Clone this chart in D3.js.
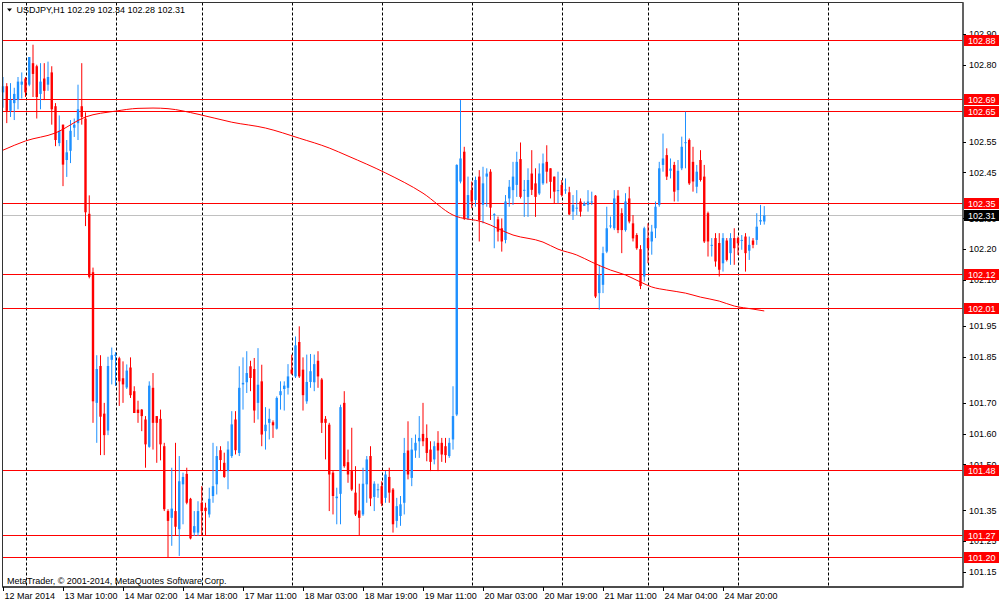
<!DOCTYPE html>
<html><head><meta charset="utf-8">
<script src="https://cdn.jsdelivr.net/npm/d3@7"></script>
<style>
html,body{margin:0;padding:0;background:#fff;}
svg text{font-family:"Liberation Sans",Arial,sans-serif;font-size:9px;}
</style></head>
<body>
<svg id="c" width="1000" height="604"></svg>
<script>
const symbolTitle = "USDJPY,H1  102.29 102.34 102.28 102.31";
const footerText = "MetaTrader, © 2001-2014, MetaQuotes Software Corp.";

const openP = [102.71,102.73,102.65,102.675,102.685,102.735,102.755,102.735,102.805,102.795,102.705,102.755,102.735,102.775,102.665,102.545,102.605,102.49,102.52,102.595,102.61,102.665,102.625,102.315,102.125,101.70,101.82,101.665,101.61,101.84,101.853,101.845,101.78,101.75,101.815,101.738,101.678,101.678,101.646,101.557,101.749,101.657,101.648,101.559,101.348,101.326,101.348,101.289,101.435,101.469,101.388,101.278,101.278,101.375,101.359,101.337,101.397,101.435,101.546,101.505,101.478,101.527,101.646,101.537,101.76,101.767,101.819,101.81,101.70,101.77,101.608,101.635,101.637,101.616,101.725,101.745,101.749,101.808,101.786,101.898,101.808,101.705,101.768,101.767,101.837,101.776,101.648,101.629,101.473,101.39,101.404,101.70,101.507,101.478,101.408,101.35,101.337,101.435,101.527,101.394,101.417,101.429,101.391,101.459,101.418,101.316,101.332,101.375,101.545,101.456,101.545,101.575,101.599,101.586,101.548,101.516,101.57,101.57,101.559,101.527,101.581,101.662,102.42,102.517,102.30,102.392,102.36,102.436,102.344,102.436,102.452,102.312,102.297,102.268,102.23,102.365,102.392,102.409,102.493,102.391,102.37,102.446,102.414,102.381,102.414,102.484,102.463,102.436,102.389,102.409,102.391,102.385,102.322,102.333,102.355,102.341,102.344,102.353,102.374,102.057,102.084,102.192,102.275,102.268,102.374,102.317,102.262,102.365,102.284,102.246,102.20,102.111,102.236,102.225,102.268,102.344,102.474,102.506,102.455,102.474,102.392,102.463,102.545,102.555,102.484,102.403,102.49,102.436,102.317,102.212,102.236,102.22,102.154,102.228,102.187,102.236,102.236,102.227,102.241,102.195,102.228,102.23,102.29,102.29];
const highP = [102.76,102.74,102.74,102.725,102.76,102.775,102.76,102.825,102.865,102.80,102.805,102.805,102.81,102.795,102.675,102.635,102.605,102.555,102.62,102.625,102.735,102.805,102.645,102.375,102.14,101.855,101.855,101.70,101.85,101.88,101.865,101.85,101.835,101.825,101.848,101.754,101.707,101.68,101.657,101.77,101.797,101.657,101.678,101.57,101.354,101.489,101.57,101.527,101.473,101.489,101.391,101.348,101.38,101.429,101.375,101.424,101.57,101.559,101.559,101.538,101.575,101.673,101.673,101.819,101.848,101.868,101.837,101.846,101.878,101.824,101.686,101.681,101.643,101.721,101.77,101.77,101.826,101.857,101.916,101.949,101.848,101.857,101.859,101.857,101.868,101.781,101.657,101.635,101.478,101.424,101.694,101.738,101.548,101.619,101.494,101.437,101.489,101.527,101.559,101.445,101.437,101.445,101.478,101.489,101.423,101.391,101.397,101.586,101.64,101.586,101.597,101.657,101.70,101.63,101.575,101.575,101.608,101.586,101.586,101.586,101.754,102.476,102.685,102.533,102.436,102.42,102.436,102.457,102.468,102.463,102.46,102.317,102.306,102.30,102.376,102.425,102.484,102.517,102.547,102.425,102.463,102.522,102.463,102.479,102.511,102.538,102.463,102.436,102.452,102.425,102.43,102.403,102.376,102.392,102.365,102.355,102.392,102.387,102.376,102.149,102.208,102.338,102.306,102.392,102.392,102.333,102.382,102.403,102.311,102.252,102.213,102.273,102.284,102.279,102.355,102.484,102.576,102.528,102.495,102.484,102.49,102.566,102.647,102.56,102.533,102.474,102.522,102.474,102.322,102.236,102.252,102.252,102.252,102.236,102.252,102.268,102.241,102.246,102.252,102.241,102.236,102.317,102.344,102.34];
const lowP = [102.66,102.61,102.63,102.62,102.655,102.69,102.695,102.73,102.695,102.625,102.655,102.685,102.715,102.605,102.535,102.535,102.405,102.435,102.48,102.565,102.555,102.605,102.275,102.105,101.635,101.57,101.53,101.53,101.595,101.76,101.755,101.69,101.70,101.745,101.716,101.667,101.635,101.608,101.489,101.554,101.548,101.505,101.513,101.348,101.197,101.235,101.267,101.202,101.305,101.37,101.256,101.267,101.267,101.267,101.267,101.327,101.375,101.402,101.478,101.456,101.419,101.521,101.532,101.527,101.678,101.732,101.738,101.635,101.646,101.559,101.548,101.581,101.586,101.613,101.678,101.675,101.727,101.792,101.781,101.781,101.675,101.697,101.749,101.738,101.749,101.602,101.516,101.348,101.337,101.305,101.305,101.489,101.44,101.413,101.332,101.267,101.332,101.375,101.364,101.348,101.391,101.364,101.375,101.375,101.278,101.294,101.30,101.337,101.451,101.429,101.521,101.521,101.559,101.51,101.478,101.50,101.478,101.508,101.505,101.521,101.548,101.657,102.414,102.295,102.295,102.333,102.338,102.225,102.284,102.338,102.295,102.203,102.225,102.192,102.219,102.338,102.344,102.37,102.365,102.305,102.305,102.376,102.305,102.376,102.409,102.414,102.365,102.349,102.349,102.371,102.38,102.311,102.295,102.311,102.306,102.341,102.322,102.344,102.041,102.003,102.057,102.187,102.268,102.262,102.252,102.187,102.257,102.284,102.225,102.198,102.07,102.095,102.154,102.182,102.236,102.338,102.452,102.425,102.43,102.355,102.355,102.457,102.463,102.409,102.387,102.382,102.42,102.22,102.176,102.176,102.143,102.111,102.127,102.16,102.149,102.149,102.181,102.198,102.127,102.165,102.203,102.214,102.279,102.28];
const closeP = [102.73,102.65,102.685,102.705,102.745,102.745,102.71,102.825,102.77,102.695,102.745,102.715,102.76,102.655,102.555,102.585,102.475,102.515,102.585,102.605,102.655,102.63,102.32,102.11,101.705,101.81,101.655,101.595,101.82,101.855,101.857,101.77,101.76,101.805,101.725,101.667,101.667,101.657,101.565,101.756,101.635,101.635,101.565,101.354,101.316,101.356,101.297,101.445,101.459,101.375,101.259,101.299,101.348,101.348,101.348,101.388,101.429,101.527,101.514,101.459,101.548,101.63,101.546,101.749,101.765,101.797,101.781,101.675,101.759,101.597,101.629,101.648,101.627,101.716,101.738,101.756,101.786,101.795,101.887,101.786,101.725,101.768,101.803,101.826,101.786,101.635,101.635,101.467,101.397,101.395,101.686,101.494,101.467,101.418,101.337,101.326,101.437,101.516,101.389,101.437,101.419,101.372,101.467,101.408,101.305,101.364,101.37,101.537,101.467,101.548,101.57,101.586,101.575,101.537,101.508,101.559,101.545,101.532,101.53,101.57,101.657,102.474,102.495,102.30,102.376,102.355,102.425,102.295,102.414,102.446,102.335,102.314,102.257,102.225,102.355,102.403,102.436,102.484,102.37,102.393,102.425,102.393,102.37,102.446,102.479,102.452,102.419,102.387,102.392,102.376,102.394,102.313,102.344,102.335,102.322,102.349,102.355,102.355,102.046,102.116,102.187,102.268,102.277,102.365,102.262,102.262,102.355,102.29,102.235,102.203,102.08,102.268,102.203,102.257,102.338,102.463,102.495,102.436,102.462,102.387,102.455,102.533,102.548,102.414,102.42,102.452,102.425,102.225,102.225,102.214,102.16,102.133,102.236,102.165,102.236,102.203,102.219,102.23,102.187,102.214,102.214,102.273,102.295,102.31];

const maIdx = [0,6,14,22,30,36,40,44,52,61,70,79,87,92,102,112,120,128,136,144,148,153,157,162,166,170,173,177,182,186,191,195,200,203];
const maVal = [102.522,102.552,102.578,102.630,102.649,102.658,102.659,102.657,102.639,102.613,102.594,102.561,102.529,102.503,102.448,102.382,102.311,102.288,102.246,102.223,102.200,102.181,102.158,102.132,102.116,102.093,102.077,102.067,102.057,102.044,102.031,102.015,102.005,101.999];

const levelVals = [102.88,102.69,102.65,102.35,102.12,102.01,101.48,101.27,101.20];
const lastPrice = 102.31;
const yTicks = [102.90,102.80,102.55,102.45,102.30,102.20,102.10,101.95,101.85,101.70,101.60,101.50,101.35,101.25,101.15];
const xTickIdx = [0,16,32,48,64,80,96,112,128,144,160,176,192];
const xTickLabels = ["12 Mar 2014","13 Mar 10:00","14 Mar 02:00","14 Mar 18:00","17 Mar 11:00","18 Mar 03:00","18 Mar 19:00","19 Mar 11:00","20 Mar 03:00","20 Mar 19:00","21 Mar 11:00","24 Mar 04:00","24 Mar 20:00"];
const dayStartIdx = [6,30,53,77,101,125,149,172,196,220];

const bars = openP.map((o,i)=>({i, o, h:highP[i], l:lowP[i], c:closeP[i]}));

const L = 2.5, R = 963, T = 2.5, B = 587;
const svg = d3.select("#c");
const x = d3.scaleLinear().domain([0,256]).range([3,963]);
const y = d3.scaleLinear().domain([101.101,103.004]).range([587,2]);

const BLUE = "#1E90FF", RED = "#FF0000";

// day separators
svg.append("g").selectAll("line").data(dayStartIdx).join("line")
  .attr("x1",d=>Math.round(x(d))+0.5).attr("x2",d=>Math.round(x(d))+0.5)
  .attr("y1",T).attr("y2",B)
  .attr("stroke","#000").attr("stroke-width",1).attr("stroke-dasharray","3,2");

// current price line
svg.append("line").attr("x1",L).attr("x2",R)
  .attr("y1",Math.round(y(lastPrice))+0.5).attr("y2",Math.round(y(lastPrice))+0.5)
  .attr("stroke","#C0C0C0").attr("stroke-width",1);

// level lines
svg.append("g").selectAll("line").data(levelVals).join("line")
  .attr("x1",L).attr("x2",R)
  .attr("y1",d=>Math.round(y(d))+0.5).attr("y2",d=>Math.round(y(d))+0.5)
  .attr("stroke",RED).attr("stroke-width",1);

// candles
const cg = svg.append("g");
cg.selectAll("line").data(bars).join("line")
  .attr("x1",d=>x(d.i)).attr("x2",d=>x(d.i))
  .attr("y1",d=>y(d.h)).attr("y2",d=>y(d.l))
  .attr("stroke",d=>d.c>=d.o?BLUE:RED).attr("stroke-width",1);
cg.selectAll("rect").data(bars).join("rect")
  .attr("x",d=>x(d.i)-1.2).attr("width",2.4)
  .attr("y",d=>y(Math.max(d.o,d.c)))
  .attr("height",d=>Math.max(1,Math.abs(y(d.o)-y(d.c))))
  .attr("fill",d=>d.c>=d.o?BLUE:RED);

// moving average
const ma = maIdx.map((d,k)=>[d,maVal[k]]);
svg.append("path").datum(ma)
  .attr("d",d3.line().x(d=>x(d[0])).y(d=>y(d[1])).curve(d3.curveMonotoneX))
  .attr("fill","none").attr("stroke",RED).attr("stroke-width",1);

// frame
svg.append("rect").attr("x",L).attr("y",T).attr("width",R-L).attr("height",B-T)
  .attr("fill","none").attr("stroke","#333").attr("stroke-width",1);
svg.append("line").attr("x1",R).attr("x2",R).attr("y1",T).attr("y2",B+0.5)
  .attr("stroke","#555").attr("stroke-width",1.6);
svg.append("line").attr("x1",L).attr("x2",R).attr("y1",B).attr("y2",B)
  .attr("stroke","#333").attr("stroke-width",1.4);

// right axis ticks & labels
const ya = svg.append("g");
ya.selectAll("line").data(yTicks).join("line")
  .attr("x1",R).attr("x2",R+3).attr("y1",d=>Math.round(y(d))+0.5).attr("y2",d=>Math.round(y(d))+0.5)
  .attr("stroke","#000");
ya.selectAll("text").data(yTicks).join("text")
  .attr("x",R+6).attr("y",d=>y(d)+3.3).attr("fill","#000")
  .text(d=>d3.format(".2f")(d));

// level labels
const lg = svg.append("g");
lg.selectAll("rect").data(levelVals).join("rect")
  .attr("x",R+1).attr("y",d=>Math.round(y(d))-5).attr("width",35).attr("height",11)
  .attr("fill",RED).attr("shape-rendering","crispEdges");
lg.selectAll("text").data(levelVals).join("text")
  .attr("x",R+5).attr("y",d=>Math.round(y(d))+4.2).attr("fill","#fff")
  .text(d=>d3.format(".2f")(d));
svg.append("rect").attr("x",R+1).attr("y",Math.round(y(lastPrice))-5).attr("width",35).attr("height",11).attr("fill","#000").attr("shape-rendering","crispEdges");
svg.append("text").attr("x",R+5).attr("y",Math.round(y(lastPrice))+4.2).attr("fill","#fff").text(d3.format(".2f")(lastPrice));

// bottom axis
const xa = svg.append("g");
xa.selectAll("line").data(xTickIdx).join("line")
  .attr("x1",d=>Math.round(x(d))+0.5).attr("x2",d=>Math.round(x(d))+0.5)
  .attr("y1",B).attr("y2",B+4).attr("stroke","#000");
xa.selectAll("text").data(xTickIdx).join("text")
  .attr("x",d=>x(d)+1.5).attr("y",598.8).attr("fill","#000")
  .text((d,k)=>xTickLabels[k]);

// title
svg.append("path").attr("d","M7,8.5 L12,8.5 L9.5,11.5 Z").attr("fill","#000");
svg.append("text").attr("x",16.5).attr("y",12.8).attr("fill","#000").text(symbolTitle);
svg.append("text").attr("x",7).attr("y",583.5).attr("fill","#000").text(footerText);
</script>
</body></html>
